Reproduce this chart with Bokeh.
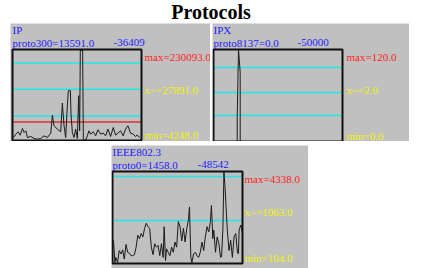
from bokeh.plotting import figure
from bokeh.models import Label, Spacer
from bokeh.layouts import column, row
from bokeh.embed import file_html
from bokeh.resources import INLINE

TITLE = "Protocols"

# ---- IP panel ----
ip_name = "IP"
ip_info = "proto300=13591.0"
ip_time = "-36409"
ip_max, ip_mean, ip_min = "max=230093.0", "x~=27891.0", "min=4248.0"
ip_t = [8, 15, 22, 28, 35, 40, 45, 50, 60, 70, 80, 90, 100, 110, 120, 125, 130, 140, 150, 155,
        160, 165, 170, 173, 179, 181, 185, 190, 195, 200, 204, 207, 209, 216, 218, 225, 230, 235, 240, 248,
        255, 262, 270, 278, 285, 292, 300, 308, 315, 322, 330, 338, 345, 352, 360, 368, 375, 380, 388]
ip_v = [9, 19, 26, 16, 36, 24, 29, 9, 12, 6, 4, 6, 14, 9, 22, 76, 44, 34, 26, 112,
        44, 9, 104, 149, 149, 79, 24, 9, 34, 6, 134, 29, 269, 269, 4, 0, 14, 29, 19, 26,
        14, 32, 19, 22, 14, 34, 12, 39, 16, 22, 29, 14, 34, 44, 22, 19, 12, 16, 9]
ip_cyan = [232, 153, 73]
ip_red = [55]

# ---- IPX panel ----
ipx_name = "IPX"
ipx_info = "proto8137=0.0"
ipx_time = "-50000"
ipx_max, ipx_mean, ipx_min = "max=120.0", "x~=2.0", "min=0.0"
ipx_t = [0, 23.7, 23.7, 25.0, 26.7, 26.7, 129]
ipx_v = [0, 0, 31, 120, 90, 0, 0]
ipx_cyan = [96.5, 64, 34]

# ---- IEEE802.3 panel ----
ie_name = "IEEE802.3"
ie_info = "proto0=1458.0"
ie_time = "-48542"
ie_max, ie_mean, ie_min = "max=4338.0", "x~=1063.0", "min=104.0"
ie_t = [8, 12, 15, 20, 25, 30, 35, 40, 45, 50, 55, 60, 65, 70, 75, 80, 85, 90, 95, 100,
        105, 110, 115, 120, 125, 130, 135, 140, 145, 150, 155, 158, 162, 165, 170, 175, 180, 185, 190, 195,
        200, 205, 210, 215, 220, 225, 230, 233, 237, 240, 245, 250, 255, 260, 265, 270, 275, 280, 285, 290,
        295, 298, 302, 305, 310, 315, 320, 325, 328, 332, 335, 338, 342, 345, 350, 355, 360, 365, 370, 375,
        378, 380, 385, 390]
ie_v = [68, 3, 18, 3, 38, 28, 40, 13, 56, 33, 30, 23, 23, 26, 48, 83, 73, 88, 78, 103,
        118, 108, 103, 48, 26, 58, 48, 53, 23, 58, 18, 108, 8, 43, 33, 23, 48, 33, 63, 48,
        123, 108, 66, 103, 63, 103, 128, 166, 18, 3, 28, 33, 23, 18, 33, 63, 38, 78, 108, 93,
        123, 170, 73, 98, 33, 78, 58, 18, 20, 103, 270, 228, 153, 98, 38, 68, 18, 78, 88, 33,
        28, 98, 113, 88]
ie_cyan = [255, 126]

GREY = "#c0c0c0"
BLUE = "#2020ff"
RED = "#ff2020"
YELLOW = "#f4f400"
CYAN = "#20e8e8"
FONT = "Liberation Serif"


def panel(W, H, bl, bw, bb, bh, xlim, ylim, t, v, cyan, red, name, info, tlabel, tx, mx, mtexts):
    # plot box occupies pixels [bl, bl+bw] x [bb, bb+bh] (from left / bottom) of the figure
    x0, x1 = xlim
    y0, y1 = ylim
    sx = (x1 - x0) / bw
    sy = (y1 - y0) / bh
    xs = x0 - bl * sx
    ys = y0 - bb * sy
    p = figure(width=W, height=H, x_range=(xs, xs + W * sx), y_range=(ys, ys + H * sy),
               toolbar_location=None, output_backend="svg",
               x_axis_location=None, y_axis_location=None,
               min_border_left=0, min_border_right=0, min_border_top=0, min_border_bottom=0)
    p.grid.visible = False
    p.background_fill_color = GREY
    p.border_fill_color = GREY
    p.outline_line_color = None
    p.segment(x0=[x0] * len(cyan), x1=[x1] * len(cyan), y0=cyan, y1=cyan,
              line_color=CYAN, line_width=1.5)
    if red:
        p.segment(x0=[x0] * len(red), x1=[x1] * len(red), y0=red, y1=red,
                  line_color="#e03030", line_width=1.5)
    p.line(t, v, line_color="#1a1a1a", line_width=1)
    p.quad(left=[x0], right=[x1], bottom=[y0], top=[y1], fill_color=None,
           line_color="#111111", line_width=2)

    def lab(x, y, text, color):
        p.add_layout(Label(x=x, y=y, x_units="screen", y_units="screen", text=text,
                           text_color=color, text_font=FONT, text_font_size="11px",
                           text_baseline="middle", text_align="left"))
    top = bb + bh
    lab(bl, top + 20, name, BLUE)
    lab(bl, top + 7, info, BLUE)
    lab(bl + tx, top + 7, tlabel, BLUE)
    lab(bl + mx, top - 7, mtexts[0], RED)
    lab(bl + mx, top - 40, mtexts[1], YELLOW)
    lab(bl + mx, bb + 6, mtexts[2], YELLOW)
    return p


p1 = panel(200, 118, 2, 129, 1, 91, (5, 393), (0, 272), ip_t, ip_v, ip_cyan, ip_red,
           ip_name, ip_info, ip_time, 101, 132, [ip_max, ip_mean, ip_min])
p2 = panel(197, 118, 1, 129, 0, 92, (0, 129), (0, 120), ipx_t, ipx_v, ipx_cyan, [],
           ipx_name, ipx_info, ipx_time, 84, 133, [ipx_max, ipx_mean, ipx_min])
p3 = panel(197, 123, 1, 130, 5, 92, (5, 390), (0, 270), ie_t, ie_v, ie_cyan, [],
           ie_name, ie_info, ie_time, 85, 132, [ie_max, ie_mean, ie_min])

tf = figure(width=421, height=23, x_range=(0, 1), y_range=(0, 1), toolbar_location=None,
            output_backend="svg", x_axis_location=None, y_axis_location=None,
            min_border_left=0, min_border_right=0, min_border_top=0, min_border_bottom=0)
tf.grid.visible = False
tf.outline_line_color = None
tf.background_fill_color = "white"
tf.border_fill_color = "white"
tf.add_layout(Label(x=0.5, y=0.48, text=TITLE, text_align="center", text_baseline="middle",
                    text_font=FONT, text_font_style="bold", text_font_size="20px",
                    text_color="black"))

layout = column(tf,
                row(Spacer(width=10, height=118), p1, Spacer(width=2, height=118), p2),
                Spacer(width=10, height=4),
                row(Spacer(width=111, height=123), p3))

open("out.html", "w").write(file_html(layout, INLINE))
